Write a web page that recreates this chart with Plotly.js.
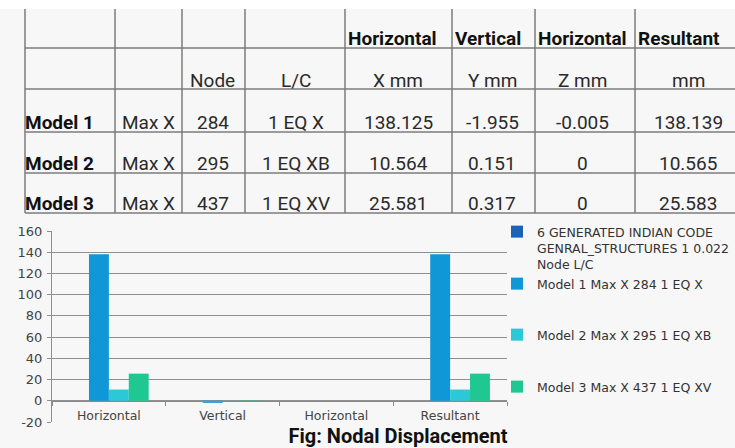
<!DOCTYPE html>
<html>
<head>
<meta charset="utf-8">
<script src="https://cdn.plot.ly/plotly-3.0.1.min.js"></script>
<style>html,body{margin:0;padding:0;background:#f7f7f7;}#chart{width:735px;height:448px;}</style>
</head>
<body>
<div id="chart"></div>
<script>
// ---- data ----
const models = ['Model 1', 'Model 2', 'Model 3'];
const maxTypes = ['Max X', 'Max X', 'Max X'];
const nodes = ['284', '295', '437'];
const loadCases = ['1 EQ X', '1 EQ XB', '1 EQ XV'];
const dispX = [138.125, 10.564, 25.581];
const dispY = [-1.955, 0.151, 0.317];
const dispZ = [-0.005, 0, 0];
const dispR = [138.139, 10.565, 25.583];
const headerTop = ['', '', '', '', 'Horizontal', 'Vertical', 'Horizontal', 'Resultant'];
const headerUnits = ['', '', 'Node', 'L/C', 'X mm', 'Y mm', 'Z mm', 'mm'];
const categories = ['Horizontal', 'Vertical', 'Horizontal', 'Resultant'];
const categoryIds = ['Horizontal X', 'Vertical Y', 'Horizontal Z', 'Resultant R'];
const firstSeriesName = '6 GENERATED INDIAN CODE<br>GENRAL_STRUCTURES 1 0.022<br>Node L/C';
const firstSeriesValues = [null, null, null, null];
const yTicks = [-20, 0, 20, 40, 60, 80, 100, 120, 140, 160];
const yTickText = ['-20', '0', '20', '40', '60', '80', '100', '120', '140', '160'];
const figureTitle = 'Fig: Nodal Displacement';

// ---- styles / geometry ----
const W = 735, H = 448;
const px = v => v / W;
const py = v => 1 - v / H;
const colors = ['#1b63b9', '#0f97d7', '#2bc9d7', '#1fc890'];
const tableFont = 'Roboto, "Liberation Sans", Arial, sans-serif';
const chartFont = '"DejaVu Sans", sans-serif';
const colEdges = [25, 115, 182, 245, 345, 452, 535, 635];
const colCenters = [23, 148, 213, 296, 398, 492, 582, 688];
const rowLines = [48, 89, 132, 173, 213];
const rowTextY = [38, 80, 122, 163, 203];
const plotLeft = 52, plotRight = 507, plotTop = 231, plotBottom = 422;
const yRange = [-20, 160];

const yDomain = [py(plotBottom), py(plotTop)];
const zeroPos = yDomain[0] + (0 - yRange[0]) / (yRange[1] - yRange[0]) * (yDomain[1] - yDomain[0]);

// ---- traces ----
const seriesValues = models.map((m, i) => [dispX[i], dispY[i], dispZ[i], dispR[i]]);
const seriesNames = models.map((m, i) => `${m} ${maxTypes[i]} ${nodes[i]} ${loadCases[i]}`);
const traces = [{
  type: 'bar', x: categoryIds, y: firstSeriesValues, name: firstSeriesName,
  marker: {color: colors[0]}, legend: 'legend', hoverinfo: 'skip'
}];
seriesValues.forEach((vals, i) => {
  traces.push({
    type: 'bar', x: categoryIds, y: vals, name: seriesNames[i],
    marker: {color: colors[i + 1]}, legend: 'legend' + (i + 2)
  });
});

// ---- table (shapes + annotations) ----
const shapes = [];
const lineStyle = {color: '#7c7c7c', width: 1.5};
shapes.push({type: 'rect', xref: 'paper', yref: 'paper', x0: 0, x1: 1, y0: py(9), y1: 1,
  fillcolor: '#ffffff', line: {width: 0}, layer: 'below'});
colEdges.forEach(x => shapes.push({type: 'line', xref: 'paper', yref: 'paper',
  x0: px(x), x1: px(x), y0: py(9), y1: py(213), line: lineStyle}));
rowLines.forEach(y => shapes.push({type: 'line', xref: 'paper', yref: 'paper',
  x0: px(25), x1: 1.02, y0: py(y), y1: py(y), line: lineStyle}));

const annotations = [];
function cell(text, x, y, anchor, bold) {
  if (text === '') return;
  annotations.push({text: text, xref: 'paper', yref: 'paper', x: px(x), y: py(y),
    xanchor: anchor, yanchor: 'middle', showarrow: false,
    font: {family: tableFont, size: 19, color: bold ? '#111' : '#2a2a2a', weight: bold ? 'bold' : 'normal'}});
}
headerTop.forEach((t, i) => cell(t, colEdges[i] + 1, rowTextY[0], 'left', true));
headerUnits.forEach((t, i) => cell(t, colCenters[i], rowTextY[1], 'center', false));
models.forEach((m, r) => {
  const row = [m, maxTypes[r], nodes[r], loadCases[r], String(dispX[r]), String(dispY[r]), String(dispZ[r]), String(dispR[r])];
  row.forEach((t, c) => cell(t, colCenters[c], rowTextY[r + 2], c === 0 ? 'left' : 'center', c === 0));
});

// ---- legends ----
function legendAt(yTop) {
  return {x: px(497), y: py(yTop), xanchor: 'left', yanchor: 'top', bgcolor: 'rgba(0,0,0,0)',
    borderwidth: 0, valign: 'top', itemwidth: 30, itemclick: false, itemdoubleclick: false,
    font: {family: chartFont, size: 12.5, color: '#333'}};
}

const layout = {
  width: W, height: H,
  margin: {l: 0, r: 0, t: 0, b: 0},
  paper_bgcolor: '#f7f7f7', plot_bgcolor: '#f7f7f7',
  showlegend: true,
  barmode: 'group', bargap: 0.3, bargroupgap: 0,
  title: {text: figureTitle, x: px(398), xanchor: 'center', y: py(436), yanchor: 'middle',
    font: {family: tableFont, size: 20, color: '#111', weight: 'bold'}},
  xaxis: {
    domain: [px(plotLeft), px(plotRight)], type: 'category', anchor: 'free', position: zeroPos,
    tickmode: 'array', tickvals: categoryIds, ticktext: categories,
    showline: true, linecolor: '#8a8a8a', linewidth: 1.2,
    ticks: 'outside', tickson: 'boundaries', ticklen: 4, tickcolor: '#8a8a8a',
    ticklabelstandoff: 3,
    showgrid: false, zeroline: false, automargin: false, fixedrange: true,
    tickfont: {family: chartFont, size: 12.5, color: '#444'}
  },
  yaxis: {
    domain: yDomain, range: yRange, tickmode: 'array', tickvals: yTicks, ticktext: yTickText,
    showgrid: true, gridcolor: '#8f8f8f', gridwidth: 1,
    showline: true, linecolor: '#8f8f8f', linewidth: 1,
    ticks: 'outside', ticklen: 4, tickcolor: '#8f8f8f',
    ticklabelstandoff: 2,
    zeroline: false, automargin: false, fixedrange: true,
    tickfont: {family: chartFont, size: 13, color: '#444'}
  },
  legend: legendAt(217),
  legend2: legendAt(269),
  legend3: legendAt(320),
  legend4: legendAt(372),
  shapes: shapes,
  annotations: annotations
};

Plotly.newPlot('chart', traces, layout, {displayModeBar: false, staticPlot: true});
</script>
</body>
</html>
